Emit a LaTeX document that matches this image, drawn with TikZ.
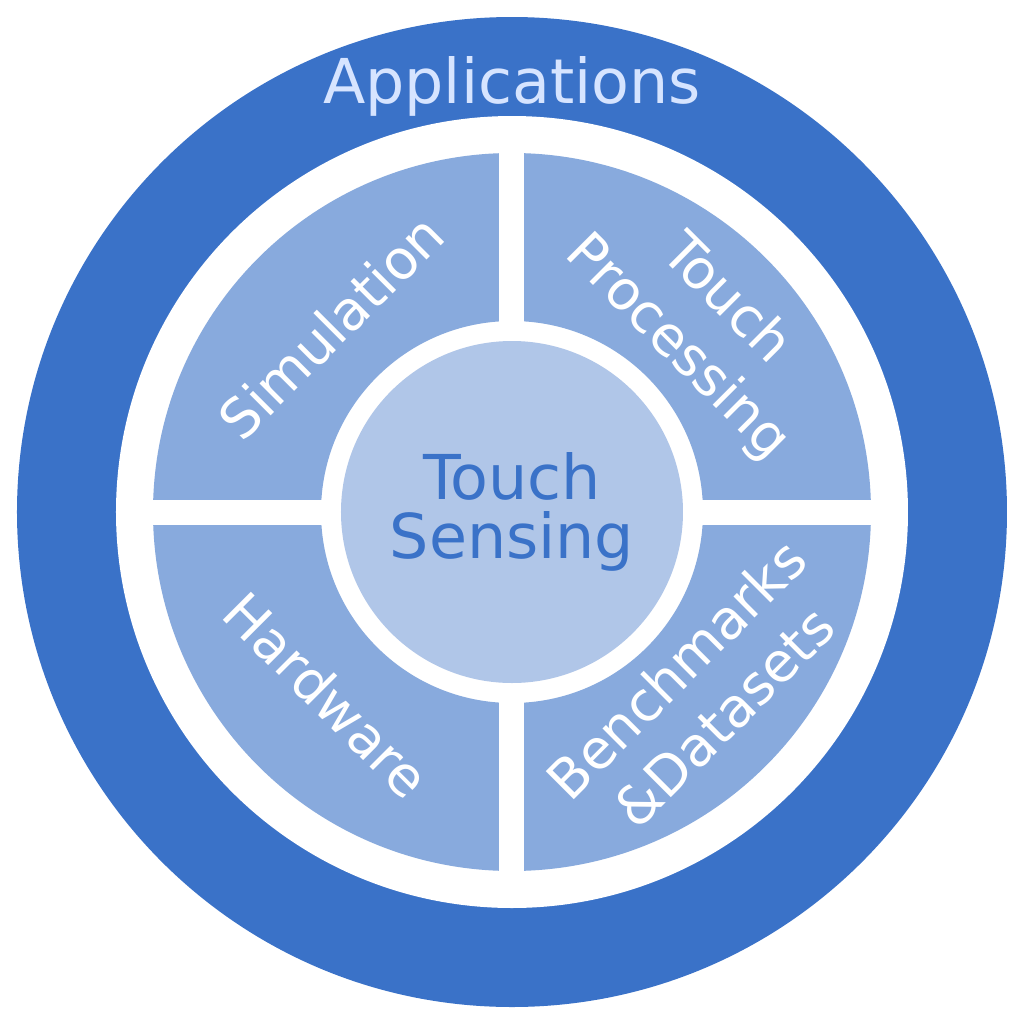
\documentclass[tikz,border=0pt]{standalone}
\usepackage{fontspec}
\setmainfont{DejaVu Sans}
\usepackage{xcolor}
\usepackage{tikz}
\definecolor{appblue}{HTML}{3A72C8}
\definecolor{secblue}{HTML}{88AADD}
\definecolor{coreblue}{HTML}{B0C6E8}
\definecolor{applbl}{HTML}{D6E4FF}
\tikzset{sec/.style={white,align=center,inner sep=0pt,font=\fontsize{15.5}{19.3}\selectfont}}
\tikzset{core/.style={appblue,align=center,inner sep=0pt,font=\fontsize{17.6}{17}\selectfont}}

\begin{document}
\begin{tikzpicture}
        \useasboundingbox (-5.12,-5.12) rectangle (5.12,5.12);
        \fill[appblue] (0,0) circle (4.95);
        \fill[white] (0,0) circle (3.96);
        \fill[secblue,even odd rule] (0,0) circle (3.59) (0,0) circle (1.91);
        \draw[white,line width=0.25cm] (0,3.75) -- (0,-3.75);
        \draw[white,line width=0.25cm] (-3.75,0) -- (3.75,0);
        \fill[coreblue] (0,0) circle (1.71);

        \node[core,text=applbl,anchor=base] (app) at (0,4.09) {Applications};
        \node[core] (sens) at (0,0) {Touch\\Sensing};
        \node[sec,rotate=45] (sim) at (-1.81,1.85) {Simulation};
        \node[sec,rotate=-45] (proc) at (1.89,1.88) {Touch\\Processing};
        \node[sec,rotate=-45] (hw) at (-1.85,-1.83) {Hardware};
        \node[sec,rotate=45] (bench) at (1.88,-1.81) {Benchmarks\\\&Datasets};
    \end{tikzpicture}
\end{document}
